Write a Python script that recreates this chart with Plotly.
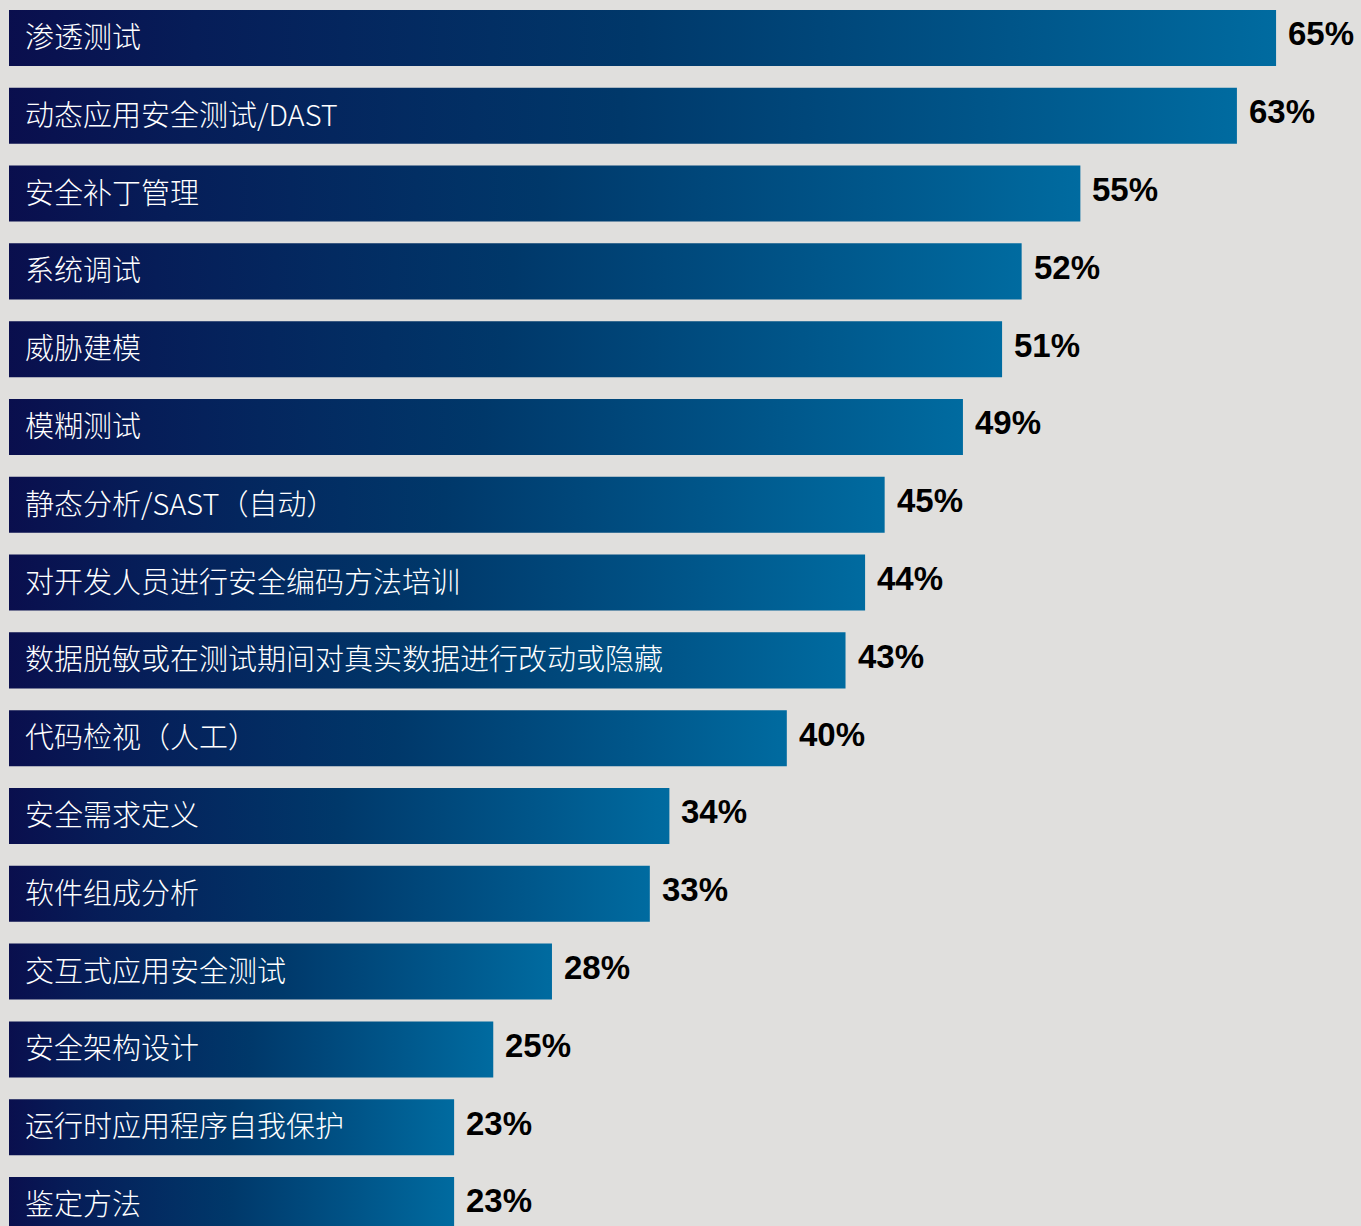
import plotly.graph_objects as go

# Survey categories (top to bottom) and share of respondents (%)
categories = [
    "渗透测试",
    "动态应用安全测试/DAST",
    "安全补丁管理",
    "系统调试",
    "威胁建模",
    "模糊测试",
    "静态分析/SAST（自动）",
    "对开发人员进行安全编码方法培训",
    "数据脱敏或在测试期间对真实数据进行改动或隐藏",
    "代码检视（人工）",
    "安全需求定义",
    "软件组成分析",
    "交互式应用安全测试",
    "安全架构设计",
    "运行时应用程序自我保护",
    "鉴定方法",
]
values = [65, 63, 55, 52, 51, 49, 45, 44, 43, 40, 34, 33, 28, 25, 23, 23]
value_labels = [f"{v}%" for v in values]

BG = "#e0dfdd"
BAR_H = 0.72
GRADIENT = [
    [0.0, "#0a0e4d"],
    [0.15, "#061d58"],
    [0.5, "#00386a"],
    [0.8, "#00568a"],
    [1.0, "#006ba0"],
]

fig = go.Figure()

# Each bar is a filled rectangle so it can carry a left-to-right gradient
for i, v in enumerate(values):
    y0, y1 = i - BAR_H / 2, i + BAR_H / 2
    fig.add_trace(go.Scatter(
        x=[0, v, v, 0, 0],
        y=[y0, y0, y1, y1, y0],
        mode="lines",
        fill="toself",
        fillgradient=dict(type="horizontal", colorscale=GRADIENT),
        line=dict(width=0, color="rgba(0,0,0,0)"),
        hoverinfo="skip",
        showlegend=False,
    ))

annotations = []
for i, (cat, v, lab) in enumerate(zip(categories, values, value_labels)):
    # category name inside the bar, anchored to the left edge of the plot
    annotations.append(dict(
        x=0, y=i, xref="paper", yref="y",
        text=cat, showarrow=False,
        xanchor="left", yanchor="middle",
        xshift=14, yshift=3,
        font=dict(family="Noto Sans CJK SC", size=29, color="white", weight=300),
    ))
    # value label just past the bar end
    annotations.append(dict(
        x=v, y=i, xref="x", yref="y",
        text=f"<b>{lab}</b>", showarrow=False,
        xanchor="left", yanchor="middle",
        xshift=10, yshift=4,
        font=dict(family="Liberation Sans, Arial", size=33, color="black"),
    ))

fig.update_layout(
    width=1361,
    height=1226,
    margin=dict(l=9, r=0, t=0, b=0),
    paper_bgcolor=BG,
    plot_bgcolor=BG,
    annotations=annotations,
    xaxis=dict(range=[0.2555, 69.34], visible=False, fixedrange=True),
    yaxis=dict(range=[15.27, -0.488], visible=False, fixedrange=True),
    showlegend=False,
)

fig.write_html("out.html")
